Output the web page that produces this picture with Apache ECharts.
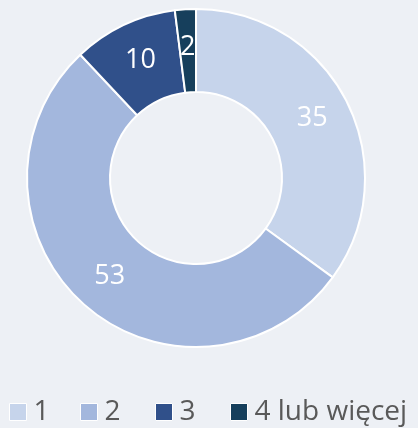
<!DOCTYPE html>
<html>
<head>
<meta charset="utf-8">
<script src="https://cdn.jsdelivr.net/npm/echarts@6/dist/echarts.min.js"></script>
<style>
  html, body { margin: 0; padding: 0; background: #edf0f5; }
  #chart { width: 418px; height: 428px; }
</style>
</head>
<body>
<div id="chart"></div>
<script>
const categories = ["1", "2", "3", "4 lub więcej"];
const values = [35, 53, 10, 2];
const colors = ["#c6d4eb", "#a3b7dd", "#30508a", "#163f5c"];

const legendLeft = [9, 80, 155, 230];

const chart = echarts.init(document.getElementById("chart"));

chart.setOption({
  backgroundColor: "#edf0f5",
  animation: false,
  legend: categories.map((name, i) => ({
    data: [name],
    left: legendLeft[i],
    top: 395,
    padding: 0,
    itemWidth: 17,
    itemHeight: 17,
    icon: "rect",
    itemStyle: { borderColor: "#ffffff", borderWidth: 1 },
    textStyle: { fontFamily: "Open Sans", fontSize: 28, lineHeight: 34, color: "#595959", padding: [0, 0, 0, 2] },
  })),
  series: [
    {
      type: "pie",
      center: [196, 178],
      radius: [86, 169],
      startAngle: 90,
      clockwise: true,
      itemStyle: { borderColor: "#ffffff", borderWidth: 2 },
      label: {
        show: true,
        position: "inside",
        color: "#ffffff",
        fontFamily: "Open Sans",
        fontSize: 27,
        formatter: "{c}",
      },
      labelLine: { show: false },
      emphasis: { disabled: true },
      data: categories.map((name, i) => ({
        name,
        value: values[i],
        itemStyle: { color: colors[i] },
      })),
    },
  ],
});
</script>
</body>
</html>
